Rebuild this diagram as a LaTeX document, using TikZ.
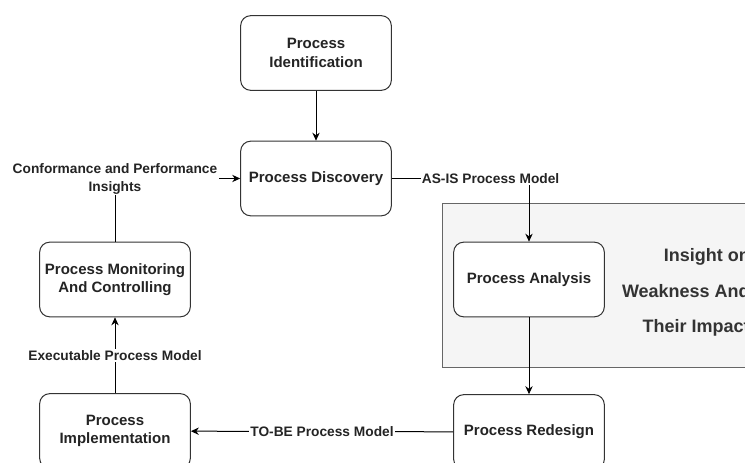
\documentclass[tikz,border=0pt]{standalone}
\usepackage{fontspec}
\setmainfont{Liberation Sans}
\usetikzlibrary{arrows.meta}
\definecolor{boxline}{HTML}{333333}
\definecolor{areafill}{HTML}{F5F5F5}
\definecolor{arealine}{HTML}{666666}

\begin{document}
\begin{tikzpicture}[x=0.75pt,y=-0.75pt,
  box/.style={draw=boxline,line width=0.75pt,rounded corners=7.5pt,fill=white,
    minimum width=113pt,minimum height=56pt,inner sep=2pt,align=center,
    text=boxline!70!black,font=\fontsize{11.25}{14}\selectfont\bfseries},
  lbl/.style={fill=white,inner sep=1pt,align=center,text=boxline!70!black,
    font=\fontsize{10.3}{13.5}\selectfont\bfseries},
  arr/.style={line width=0.75pt,-{Stealth[length=6pt,width=5.5pt]}}]
\useasboundingbox (0,0) rectangle (745,463);
\clip (0,0) rectangle (745,463);
% shaded area
\draw[fill=areafill,draw=arealine,line width=0.75pt] (442,204) rectangle (770,367);
\node[anchor=east,align=right,inner sep=0pt,text=boxline,
  font=\fontsize{13.5}{26.6}\selectfont\bfseries] (insight) at (750,292.5)
  {Insight on\\Weakness And\\Their Impact};
% steps
\node [box] (ident) at (316,53) {Process\\Identification};
\node [box] (disc) at (316,178.5) {Process Discovery};
\node [box] (anal) at (529,279.5) {Process Analysis};
\node [box] (redes) at (529,432) {Process Redesign};
\node [box] (impl) at (115,431) {Process\\Implementation};
\node [box] (mon) at (115,279.5) {Process Monitoring\\And Controlling};
% flow
\draw[arr] (ident) -- (disc);
\draw[arr] (disc) -| node[lbl,pos=0.36]{AS-IS Process Model} (anal);
\draw[arr] (anal) -- (redes);
\draw[arr] (redes) -- node[lbl]{TO-BE Process Model} (impl);
\draw[arr] (impl) -- node[lbl]{Executable Process Model} (mon);
\draw[arr] (mon) |- node[lbl,pos=0.5]{Conformance and Performance\\Insights} (disc);
\end{tikzpicture}
\end{document}
